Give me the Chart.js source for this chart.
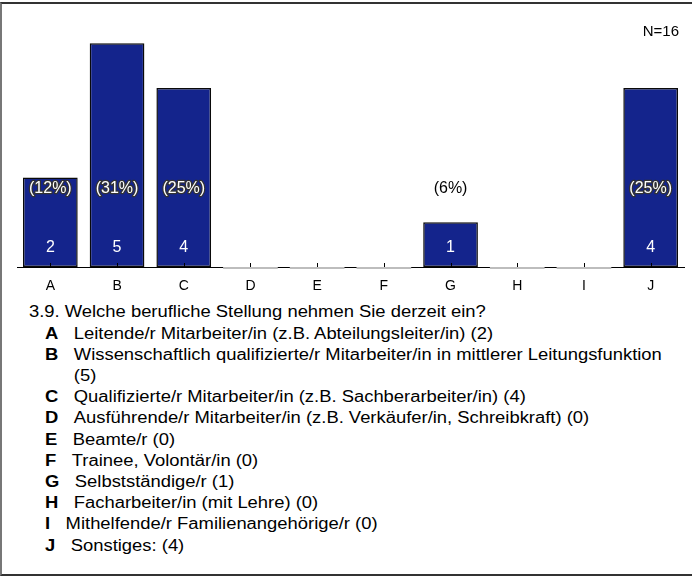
<!DOCTYPE html>
<html>
<head>
<meta charset="utf-8">
<script src="https://cdn.jsdelivr.net/npm/chart.js@4"></script>
<style>
  body { margin: 0; background: #fff; font-family: "Liberation Sans", Arial, sans-serif; color: #000; }
  #frame { position: absolute; left: 0; top: 2px; width: 720px; height: 574px; box-sizing: border-box;
           border-left: 2px solid #777; border-top: 2px solid #333; border-bottom: 2px solid #333; }
  #chart { position: absolute; left: 0; top: 0; }
  /* the printed text is a bit wider than plain Arial, so stretch it */
  #legend { position: absolute; left: 0; top: 301.4px; font-size: 16px; line-height: 21.2px; white-space: nowrap;
            transform: scaleX(1.15); transform-origin: 0 0; }
  #legend .q { padding-left: 25.2px; }
  #legend .row { padding-left: 39.1px; }
  #legend .key { display: inline-block; vertical-align: top; font-weight: bold; margin-right: 13.5px; }
  #legend .txt { display: inline-block; vertical-align: top; white-space: normal; width: 522px; }
</style>
</head>
<body>
<div id="frame"></div>
<canvas id="chart" width="692" height="300"></canvas>
<div id="legend"></div>
<script>
const categories = ['A', 'B', 'C', 'D', 'E', 'F', 'G', 'H', 'I', 'J'];
const counts = [2, 5, 4, 0, 0, 0, 1, 0, 0, 4];
const percentLabels = ['(12%)', '(31%)', '(25%)', '', '', '', '(6%)', '', '', '(25%)'];
const sampleSize = 'N=16';
const question = '3.9. Welche berufliche Stellung nehmen Sie derzeit ein?';
const answers = [
    'Leitende/r Mitarbeiter/in (z.B. Abteilungsleiter/in) (2)',
    'Wissenschaftlich qualifizierte/r Mitarbeiter/in in mittlerer Leitungsfunktion (5)',
    'Qualifizierte/r Mitarbeiter/in (z.B. Sachberarbeiter/in) (4)',
    'Ausführende/r Mitarbeiter/in (z.B. Verkäufer/in, Schreibkraft) (0)',
    'Beamte/r (0)',
    'Trainee, Volontär/in (0)',
    'Selbstständige/r (1)',
    'Facharbeiter/in (mit Lehre) (0)',
    'Mithelfende/r Familienangehörige/r (0)',
    'Sonstiges: (4)'
];

const labelFont = '16px "Liberation Sans", Arial, sans-serif';

// labels in/over the bars, inner tick marks, grey stubs for empty bars, N=
const barLabels = {
    id: 'barLabels',
    afterDatasetsDraw(chart) {
        const ctx = chart.ctx;
        const xs = chart.scales.x;
        const ys = chart.scales.y;
        const base = ys.getPixelForValue(0);
        const meta = chart.getDatasetMeta(0);
        ctx.save();

        meta.data.forEach((bar, i) => {
            if (counts[i] === 0) {
                ctx.strokeStyle = '#bdbdbd';
                ctx.lineWidth = 2;
                ctx.beginPath();
                ctx.moveTo(bar.x - bar.width / 2, base + 1);
                ctx.lineTo(bar.x + bar.width / 2, base + 1);
                ctx.stroke();
            }
        });

        ctx.strokeStyle = '#000';
        ctx.lineWidth = 1;
        xs.ticks.forEach((t, i) => {
            const px = Math.round(xs.getPixelForTick(i)) + 0.5;
            ctx.beginPath();
            ctx.moveTo(px, base);
            ctx.lineTo(px, base - 4);
            ctx.stroke();
        });

        ctx.font = labelFont;
        ctx.textAlign = 'center';
        ctx.textBaseline = 'middle';
        meta.data.forEach((bar, i) => {
            if (counts[i] > 0) {
                ctx.fillStyle = '#fff';
                ctx.fillText(String(counts[i]), bar.x, base - 19);
            }
            if (percentLabels[i]) {
                const py = base - 78;
                if (bar.y < py - 8) {
                    ctx.lineWidth = 2.5;
                    ctx.strokeStyle = '#333';
                    ctx.lineJoin = 'round';
                    ctx.strokeText(percentLabels[i], bar.x, py);
                    ctx.fillStyle = '#fff';
                } else {
                    ctx.fillStyle = '#000';
                }
                ctx.fillText(percentLabels[i], bar.x, py);
            }
        });

        ctx.font = '15px "Liberation Sans", Arial, sans-serif';
        ctx.textAlign = 'right';
        ctx.fillStyle = '#000';
        ctx.fillText(sampleSize, xs.right - 5, 32);
        ctx.restore();
    }
};

new Chart(document.getElementById('chart'), {
    type: 'bar',
    data: {
        labels: categories,
        datasets: [{
            data: counts,
            backgroundColor: '#14248c',
            borderColor: '#0a0a0a',
            borderWidth: 1.5,
            borderSkipped: false,
            barPercentage: 0.82,
            categoryPercentage: 1.0
        }]
    },
    options: {
        responsive: false,
        animation: false,
        events: [],
        layout: { padding: { left: 17, right: 8, top: 21, bottom: 0 } },
        plugins: { legend: { display: false }, tooltip: { enabled: false } },
        scales: {
            x: {
                grid: { display: false, drawTicks: false },
                border: { display: true, color: '#000', width: 1 },
                ticks: { color: '#000', padding: 11, font: { family: '"Liberation Sans", Arial, sans-serif', size: 14 } },
                afterFit: (s) => { s.height = 33; }
            },
            y: { display: false, min: 0, max: 5.5 }
        }
    },
    plugins: [barLabels]
});

// question and answer key below the chart
const legend = document.getElementById('legend');
const q = document.createElement('div');
q.className = 'q';
q.textContent = question;
legend.appendChild(q);
answers.forEach((a, i) => {
    const row = document.createElement('div');
    row.className = 'row';
    const k = document.createElement('span');
    k.className = 'key';
    k.textContent = categories[i];
    const t = document.createElement('span');
    t.className = 'txt';
    t.textContent = a;
    row.appendChild(k);
    row.appendChild(t);
    legend.appendChild(row);
});
</script>
</body>
</html>
